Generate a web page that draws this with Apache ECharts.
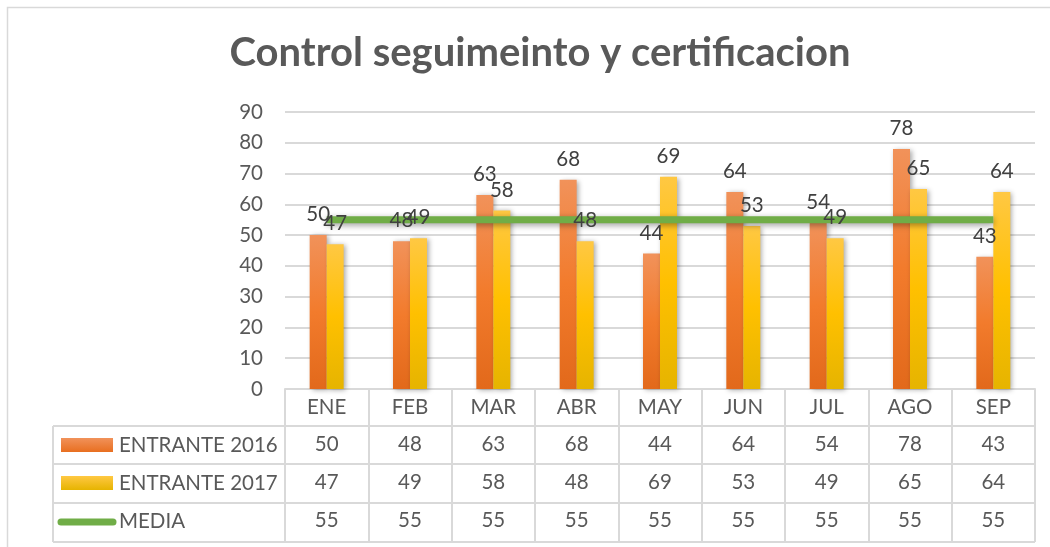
<!DOCTYPE html>
<html><head><meta charset="utf-8">
<script src="https://cdn.jsdelivr.net/npm/echarts@6/dist/echarts.min.js"></script>
<style>html,body{margin:0;padding:0;background:#fff}#c{width:1050px;height:547px}</style>
</head><body><div id="c"></div>
<script>
const categories = ['ENE','FEB','MAR','ABR','MAY','JUN','JUL','AGO','SEP'];
const entrante2016 = [50,48,63,68,44,64,54,78,43];
const entrante2017 = [47,49,58,48,69,53,49,65,64];
const media = [55,55,55,55,55,55,55,55,55];
const seriesNames = ['ENTRANTE 2016','ENTRANTE 2017','MEDIA'];
const yTicks = {min:0, max:90, interval:10};

const FONT = 'Lato';
const FS = 20.5;
const TXT = '#595959';
const GRIDC = '#d9d9d9';
const orangeGrad = new echarts.graphic.LinearGradient(0,0,0,1,[
  {offset:0,color:'#F1925A'},{offset:0.5,color:'#F27B2C'},{offset:1,color:'#E2691B'}]);
const yellowGrad = new echarts.graphic.LinearGradient(0,0,0,1,[
  {offset:0,color:'#FFC843'},{offset:0.5,color:'#FFC000'},{offset:1,color:'#E6B400'}]);

const chart = echarts.init(document.getElementById('c'), null, {renderer:'canvas'});

const GL = 285, GR = 15, GT = 112, GB = 158;
const axisY = 547 - GB;
const rowOffsets = [37, 75, 113];
const rowData = [entrante2016, entrante2017, media];

const xAxes = [{
  type:'category', data:categories, gridIndex:0, position:'bottom',
  boundaryGap:true,
  axisLine:{show:true, lineStyle:{color:GRIDC, width:2}},
  axisTick:{show:true, length:153, lineStyle:{color:GRIDC, width:2}},
  axisLabel:{fontFamily:FONT, fontSize:FS, color:TXT, margin:8}
}];
rowData.forEach((arr,i)=>{
  xAxes.push({
    type:'category', data:arr.map(String), gridIndex:0, position:'bottom',
    offset:rowOffsets[i], boundaryGap:true,
    axisLine:{show:false}, axisTick:{show:false}, splitLine:{show:false},
    axisLabel:{fontFamily:FONT, fontSize:FS, color:TXT, margin:8, interval:0}
  });
});
// hidden overlay axis for labels drawn above the MEDIA line
xAxes.push({type:'category', data:categories, gridIndex:1, show:false, boundaryGap:true});
const labelXIndex = xAxes.length - 1;

const rowCenters = rowOffsets.map(o => axisY + o + 19);
const rowLines = [426, 464, 503, 542];
const graphics = [
  {type:'rect', shape:{x:7.5,y:7.5,width:1100,height:600}, style:{fill:null, stroke:'#d9d9d9', lineWidth:1.5}, silent:true},
  {type:'line', shape:{x1:53,y1:rowLines[0],x2:53,y2:rowLines[3]}, style:{stroke:GRIDC,lineWidth:2}}
];
rowLines.forEach(y=>{
  graphics.push({type:'line', shape:{x1:53,y1:y,x2:1050-GR,y2:y}, style:{stroke:GRIDC,lineWidth:2}});
});
graphics.push({type:'rect', shape:{x:61,y:rowCenters[0]-7,width:52,height:14}, style:{fill:new echarts.graphic.LinearGradient(0,0,0,1,[{offset:0,color:'#F1925A'},{offset:1,color:'#E86F20'}])}});
graphics.push({type:'rect', shape:{x:61,y:rowCenters[1]-7,width:52,height:14}, style:{fill:new echarts.graphic.LinearGradient(0,0,0,1,[{offset:0,color:'#FFC843'},{offset:1,color:'#E6B400'}])}});
graphics.push({type:'line', shape:{x1:61,y1:rowCenters[2]+1,x2:113,y2:rowCenters[2]+1}, style:{stroke:'#70AD47',lineWidth:7,lineCap:'round'}});
seriesNames.forEach((n,i)=>{
  graphics.push({type:'text', x:119, y:rowCenters[i], style:{text:n, fontFamily:FONT, fontSize:FS, fill:TXT, verticalAlign:'middle', align:'left'}});
});

const labelStyle = {show:true, position:'top', distance:10, fontFamily:FONT, fontSize:FS, color:'#404040'};
const barShadow = {shadowBlur:5, shadowOffsetX:2, shadowOffsetY:1, shadowColor:'rgba(0,0,0,0.35)'};
const yAxisBase = {type:'value', min:yTicks.min, max:yTicks.max, interval:yTicks.interval};

chart.setOption({
  animation:false,
  backgroundColor:'#fff',
  title:{text:'Control seguimeinto y certificacion', left:535, textAlign:'center', top:28,
    textStyle:{fontFamily:FONT, fontSize:40, fontWeight:'bold', color:TXT}},
  grid:[{left:GL, right:GR, top:GT, bottom:GB, containLabel:false},
        {left:GL, right:GR, top:GT, bottom:GB, containLabel:false}],
  xAxis:xAxes,
  yAxis:[Object.assign({gridIndex:0,
    axisLine:{show:false}, axisTick:{show:false},
    axisLabel:{fontFamily:FONT, fontSize:FS, color:TXT, margin:22},
    splitLine:{lineStyle:{color:GRIDC, width:2}}}, yAxisBase),
    Object.assign({gridIndex:1, show:false, splitLine:{show:false}}, yAxisBase)],
  series:[
    {name:seriesNames[0], type:'bar', data:entrante2016, barWidth:17, barGap:'0%', z:2,
      itemStyle:Object.assign({color:orangeGrad}, barShadow)},
    {name:seriesNames[1], type:'bar', data:entrante2017, barWidth:17, barGap:'0%', z:2,
      itemStyle:Object.assign({color:yellowGrad}, barShadow)},
    {name:seriesNames[2], type:'line', data:media, symbol:'none', z:3,
      lineStyle:{color:'#70AD47', width:7, shadowBlur:6, shadowOffsetY:2, shadowColor:'rgba(0,0,0,0.4)'}},
    {name:'lbl2016', type:'bar', xAxisIndex:labelXIndex, yAxisIndex:1, data:entrante2016, barWidth:17, barGap:'0%', z:5,
      itemStyle:{color:'rgba(0,0,0,0)'}, label:labelStyle, silent:true},
    {name:'lbl2017', type:'bar', xAxisIndex:labelXIndex, yAxisIndex:1, data:entrante2017, barWidth:17, barGap:'0%', z:5,
      itemStyle:{color:'rgba(0,0,0,0)'}, label:labelStyle, silent:true}
  ],
  graphic:graphics
});
</script></body></html>
